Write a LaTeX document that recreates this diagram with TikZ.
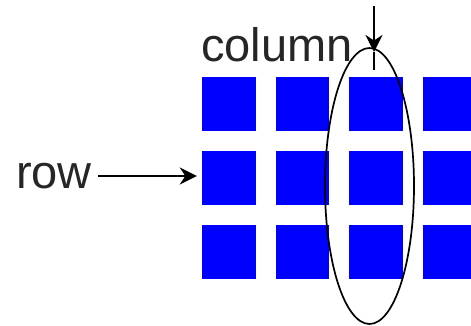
\documentclass[tikz,border=0pt]{standalone}
\usepackage{fontspec}
\setmainfont{Liberation Sans}
\usetikzlibrary{arrows.meta,shapes.geometric}
\tikzset{
  cell/.style={fill=blue, minimum width=53.5pt, minimum height=54pt, inner sep=0pt},
  lbl/.style={inner sep=0pt, font=\fontsize{47}{50}\selectfont, text=black!85},
  arr/.style={-{Stealth[length=17pt,width=17pt]}, line width=2.6pt}
}
\begin{document}
\begin{tikzpicture}[x=1pt, y=-1pt]
                \useasboundingbox (0,0) rectangle (471,326);
                % Cells
                \foreach \r in {1,2,3}
                    \foreach \c in {1,...,4}
                        \node[cell] (cell-\r-\c) at (228.75+73.67*\c-73.67, 104+74*\r-74) {};
                
                % Labels
                \node[lbl, anchor=base west] (collbl) at (201,62) {column};
                \node[lbl, anchor=east] (rowlbl) at (92,176) {row};
                
                % Column ring
                \node[ellipse, draw, line width=1.7pt, inner sep=0pt,
                      minimum width=89pt, minimum height=276pt] (colring) at (369.5,186) {};
                
                % Arrows
                \coordinate (colTop) at (374,6);
                \coordinate (colTip) at (374,52);
                \coordinate (colEnd) at (374,70);
                \draw[arr] (colTop) -- (colTip);
                \draw[line width=2.6pt] (colTip) -- (colEnd);
                \draw[arr] ([xshift=6pt]rowlbl.east) -- ([xshift=-5pt]cell-2-1.west |- rowlbl.east);
            \end{tikzpicture}
\end{document}
